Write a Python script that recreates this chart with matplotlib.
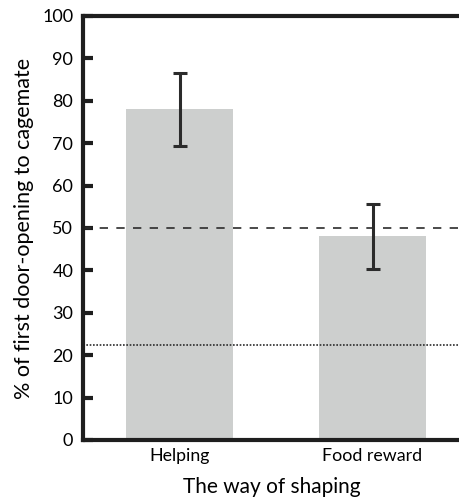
import matplotlib
matplotlib.use("Agg")
import matplotlib.pyplot as plt

# Data
categories = ["Helping", "Food reward"]
percent_first_opening = [78.0, 48.0]
sem = [8.6, 7.7]
chance_level = 50.0
baseline_level = 22.5
y_ticks = [0, 10, 20, 30, 40, 50, 60, 70, 80, 90, 100]

plt.rcParams["font.family"] = ["Lato", "DejaVu Sans"]

fig = plt.figure(figsize=(4.60, 5.01), dpi=100)
ax = fig.add_axes([83 / 460, 61 / 501, 377 / 460, 424 / 501])

x = list(range(len(categories)))
ax.bar(x, percent_first_opening, width=0.555, color="#cdcfce", zorder=1)
ax.errorbar(x, percent_first_opening, yerr=sem, fmt="none", ecolor="#2b2b2b",
            elinewidth=2.2, capsize=5, capthick=2.2, zorder=3)

ax.axhline(chance_level, color="#2b2b2b", linestyle=(0, (5, 5)), linewidth=1.2, zorder=2)
ax.axhline(baseline_level, color="#2b2b2b", linestyle=(0, (1, 1)), linewidth=1.2, zorder=2)

ax.set_xlim(-0.5, 1.453)
ax.set_ylim(0, 100)
ax.set_yticks(y_ticks)
ax.set_xticks(x)
ax.set_xticklabels(categories)

for side in ["left", "bottom", "top"]:
    ax.spines[side].set_linewidth(3)
    ax.spines[side].set_color("#1e1e1e")
ax.spines["right"].set_visible(False)

ax.tick_params(axis="y", direction="in", length=7, width=3, color="#1e1e1e",
               labelsize=13, pad=7)
ax.tick_params(axis="x", length=0, labelsize=12.8, pad=6)

ax.set_ylabel("% of first door-opening to cagemate", fontsize=15.5, labelpad=6)
ax.set_xlabel("The way of shaping", fontsize=15, labelpad=9)

fig.savefig("out.png", dpi=100)
